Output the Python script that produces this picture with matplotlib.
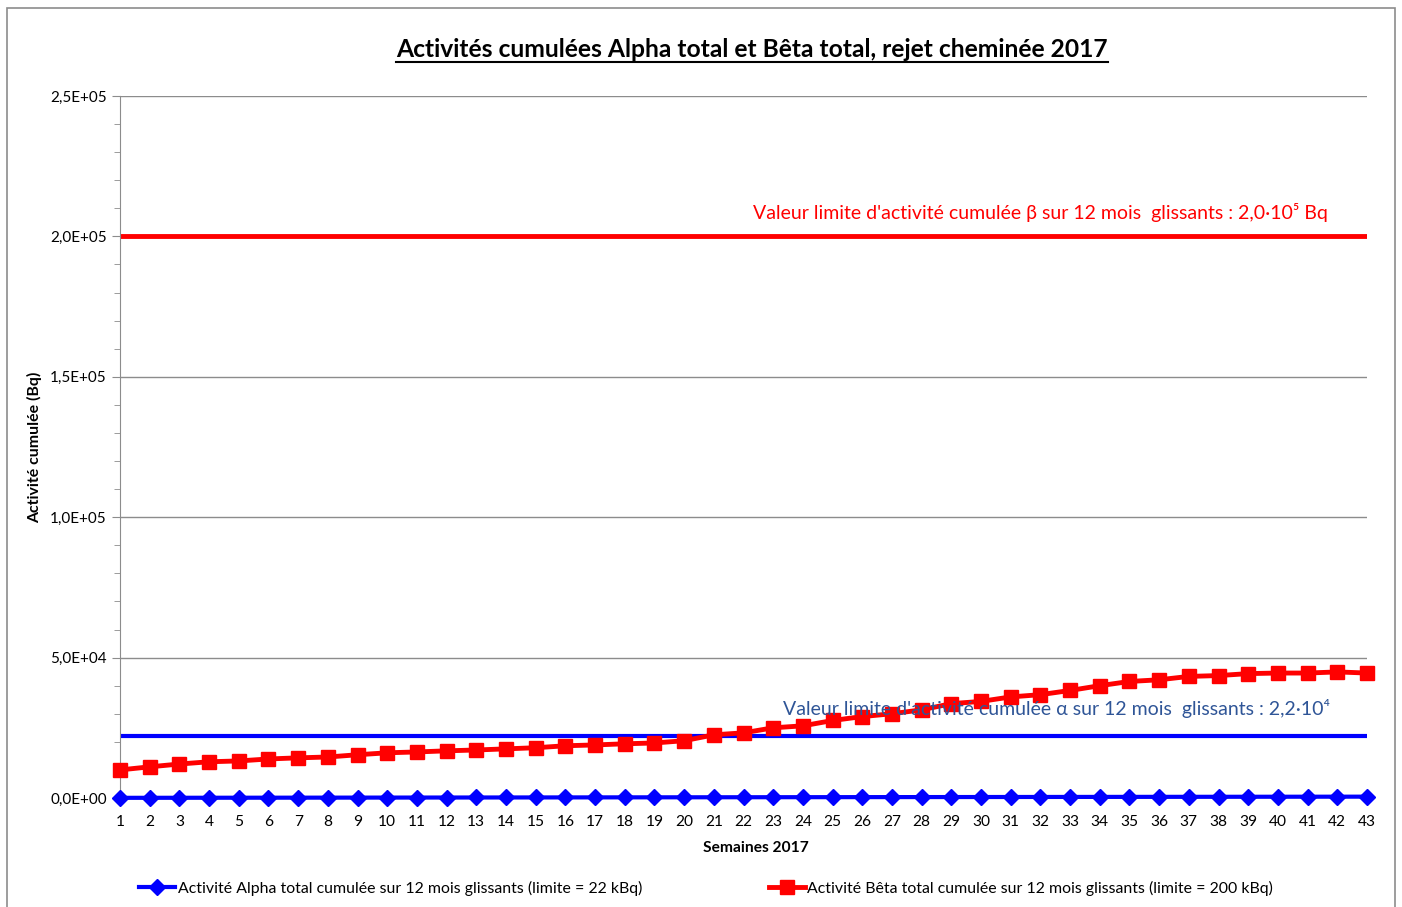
import matplotlib
matplotlib.use('Agg')
import matplotlib.pyplot as plt
from matplotlib.ticker import MultipleLocator, FuncFormatter
from matplotlib.patches import Rectangle

plt.rcParams['font.family'] = ['Lato', 'DejaVu Sans']

weeks = list(range(1, 44))
beta = [10000, 11100, 12100, 12900, 13200, 13900, 14300, 14600, 15400, 16100,
        16400, 16800, 17100, 17500, 17900, 18600, 18900, 19300, 19600, 20400,
        22500, 23200, 25000, 25700, 27600, 29000, 30000, 31400, 33600, 34400,
        36000, 36800, 38300, 40000, 41500, 42100, 43300, 43600, 44300, 44500,
        44500, 44900, 44500]
alpha = [60, 70, 80, 90, 100, 110, 120, 130, 140, 150,
         160, 170, 180, 190, 200, 210, 220, 230, 240, 250,
         260, 270, 280, 290, 300, 310, 320, 330, 340, 350,
         360, 370, 380, 390, 400, 410, 420, 430, 440, 450,
         460, 470, 480]
alpha_limit = 22000
beta_limit = 200000

W, H = 1402, 907
fig = plt.figure(figsize=(W/100, H/100), dpi=100)
ax = fig.add_axes([120/W, 1-798/H, (1367-120)/W, (798-96)/H])

# outer chart border
fig.patches.append(Rectangle((7/W, -0.01), (1395-7)/W, 1-8/H+0.01,
                             transform=fig.transFigure, fill=False,
                             edgecolor='#8c8c8c', lw=1.2))

ax.axhline(beta_limit, color='#ff0000', lw=3.5, zorder=2)
ax.axhline(alpha_limit, color='#0000ff', lw=3, zorder=2)

ax.plot(weeks, alpha, color='#0000ff', lw=3, marker='D', markersize=8,
        clip_on=False, zorder=4,
        label='Activité Alpha total cumulée sur 12 mois glissants (limite = 22 kBq)')
ax.plot(weeks, beta, color='#ff0000', lw=3.5, marker='s', markersize=10,
        clip_on=False, zorder=5,
        label='Activité Bêta total cumulée sur 12 mois glissants (limite = 200 kBq)')

ax.set_xlim(1, 43)
ax.set_ylim(0, 250000)
ax.set_xticks(weeks)
ax.yaxis.set_major_locator(MultipleLocator(50000))
ax.yaxis.set_minor_locator(MultipleLocator(10000))
ax.yaxis.set_major_formatter(FuncFormatter(
    lambda v, p: ('%.1E' % v).replace('.', ',')))
ax.grid(axis='y', which='major', color='#8c8c8c', lw=1)
ax.set_axisbelow(True)
for s in ['top', 'right', 'bottom']:
    ax.spines[s].set_visible(False)
ax.spines['left'].set_color('#8c8c8c')
ax.tick_params(axis='x', length=0, pad=12, labelsize=11.2)
ax.tick_params(axis='y', which='both', direction='out', color='#8c8c8c',
               labelsize=11)
ax.tick_params(axis='y', which='major', length=6)
ax.tick_params(axis='y', which='minor', length=4)

ax.set_title('Activités cumulées Alpha total et Bêta total, rejet cheminée 2017',
             fontsize=17.7, fontweight='bold', pad=28)
ax.title.set_x((752-120)/1247)
ax.set_xlabel('Semaines 2017', fontsize=11.2, fontweight='bold', labelpad=9)
ax.xaxis.label.set_x((756-120)/1247)
ax.set_ylabel('Activité cumulée (Bq)', fontsize=11.4, fontweight='bold', labelpad=6)

fig.text(1328/W, 1-213/H,
         "Valeur limite d'activité cumulée β sur 12 mois  glissants : 2,0·10⁵ Bq",
         color='#ff0000', fontsize=14, ha='right', va='center')
fig.text(1330/W, 1-708/H,
         "Valeur limite d'activité cumulée α sur 12 mois  glissants : 2,2·10⁴",
         color='#2f5597', fontsize=14, ha='right', va='center')

fig.legend(loc='center', bbox_to_anchor=(0.5 + 5/W, 1-888/H), ncol=2, frameon=False,
           fontsize=11.4, handlelength=2.3, handletextpad=0.15, columnspacing=8)

# underline the title
fig.canvas.draw()
bb = ax.title.get_window_extent()
fig.add_artist(plt.Line2D([bb.x0/W, bb.x1/W], [(bb.y0-1)/H]*2,
                          color='black', lw=1.5, transform=fig.transFigure))

fig.savefig('out.png', dpi=100)
